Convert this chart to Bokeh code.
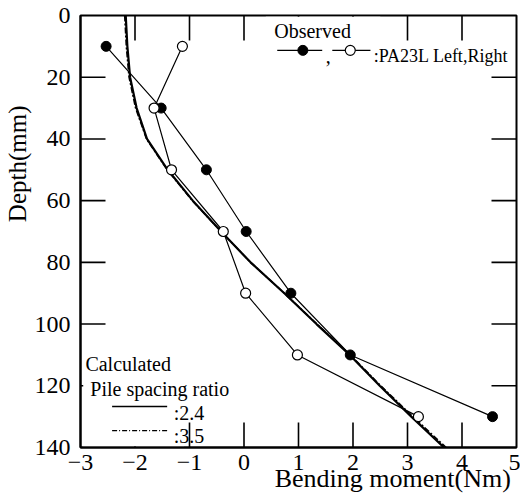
from bokeh.plotting import figure
from bokeh.models import Range1d, Label, FixedTicker, Title
from bokeh.embed import file_html
from bokeh.resources import INLINE

# ---- data ----
depth_obs = [10, 30, 50, 70, 90, 110, 130]
left_obs = [-2.53, -1.52, -0.69, 0.04, 0.86, 1.95, 4.56]
right_obs = [-1.13, -1.65, -1.33, -0.38, 0.03, 0.98, 3.20]

depth_calc = [0, 10, 20, 30, 40, 50, 60, 70, 80, 90, 100, 110, 120, 130, 140]
calc_24 = [-2.17, -2.14, -2.09, -1.97, -1.78, -1.40, -0.94, -0.42, 0.12, 0.74, 1.33, 1.94, 2.49, 3.07, 3.67]
calc_35 = [-2.19, -2.16, -2.11, -1.99, -1.79, -1.41, -0.95, -0.42, 0.12, 0.74, 1.34, 1.95, 2.51, 3.10, 3.71]

x_ticks = [-3, -2, -1, 0, 1, 2, 3, 4, 5]
y_ticks = [0, 20, 40, 60, 80, 100, 120, 140]

FONT = "Liberation Serif"
XMIN, XMAX, YMIN, YMAX = -3, 5, 0, 140

p = figure(width=520, height=498, output_backend="svg", toolbar_location=None,
           x_range=Range1d(XMIN, XMAX), y_range=Range1d(YMAX, YMIN),
           min_border_left=80, min_border_right=4, min_border_top=15, min_border_bottom=51)
p.grid.visible = False
p.background_fill_color = "white"
p.border_fill_color = "white"
p.outline_line_color = "black"
p.outline_line_width = 2

for ax, ticks, standoff in ((p.xaxis[0], x_ticks, 7), (p.yaxis[0], y_ticks, 10)):
    ax.ticker = FixedTicker(ticks=ticks)
    ax.axis_line_color = "black"
    ax.axis_line_width = 2
    ax.major_tick_in = 0
    ax.major_tick_out = 0
    ax.minor_tick_line_color = None
    ax.major_label_text_font = FONT
    ax.major_label_text_font_size = "24px"
    ax.major_label_text_color = "black"
    ax.major_label_standoff = standoff

# x axis title: the reference places it right of centre; leading no-break
# spaces shift the centred label to the right.
xa = p.xaxis[0]
xa.axis_label = "\u00a0" * 29 + "Bending moment(Nm)"
xa.axis_label_text_font = FONT
xa.axis_label_text_font_size = "26px"
xa.axis_label_text_font_style = "normal"
xa.axis_label_text_color = "black"
xa.axis_label_standoff = -9

# y axis title (side title, top-aligned with an offset so it sits above the middle)
p.add_layout(Title(text="Depth(mm)", align="right", offset=90, standoff=2,
                   text_font=FONT, text_font_size="25px", text_font_style="normal",
                   text_color="black"), "left")

# ---- inward tick marks on all four sides (25 px long) ----
tx = 25 / 54.5
ty = 25 / 3.0857
xt = [t for t in x_ticks if XMIN < t < XMAX]
yt = [t for t in y_ticks if YMIN < t < YMAX]
p.segment(x0=xt, y0=[YMAX] * len(xt), x1=xt, y1=[YMAX - ty] * len(xt), line_color="black", line_width=1.6)
p.segment(x0=xt, y0=[YMIN] * len(xt), x1=xt, y1=[YMIN + ty] * len(xt), line_color="black", line_width=1.6)
p.segment(x0=[XMIN] * len(yt), y0=yt, x1=[XMIN + tx] * len(yt), y1=yt, line_color="black", line_width=1.6)
p.segment(x0=[XMAX] * len(yt), y0=yt, x1=[XMAX - tx] * len(yt), y1=yt, line_color="black", line_width=1.6)

# ---- legend backgrounds (hide ticks under legends) ----
p.quad(left=[-2.95], right=[-1.1], top=[106], bottom=[139.6], fill_color="white", line_color=None)
p.quad(left=[0.4], right=[2.5], top=[0.4], bottom=[15.5], fill_color="white", line_color=None)

# ---- calculated curves ----
p.line(calc_24, depth_calc, line_color="black", line_width=2.2)
p.line(calc_35, depth_calc, line_color="black", line_width=1.5, line_dash="6 2 2 2")

# ---- observed ----
p.line(left_obs, depth_obs, line_color="black", line_width=1.2)
p.line(right_obs, depth_obs, line_color="black", line_width=1.2)
p.scatter(left_obs, depth_obs, size=10, fill_color="black", line_color="black")
p.scatter(right_obs, depth_obs, size=10, fill_color="white", line_color="black", line_width=1.2)

# Observed legend
p.add_layout(Label(x=0.61, y=5.1, text="Observed", text_font=FONT, text_font_size="20px",
                   text_color="black", text_baseline="alphabetic", text_align="left",
                   background_fill_color="white", x_offset=-3))
p.line([0.61, 1.435], [11.3, 11.3], line_color="black", line_width=1.2)
p.scatter([1.08], [11.3], size=10, fill_color="black", line_color="black")
p.add_layout(Label(x=1.50, y=13.0, text=",", text_font=FONT, text_font_size="20px",
                   text_color="black", text_baseline="alphabetic"))
p.line([1.62, 2.32], [11.3, 11.3], line_color="black", line_width=1.2)
p.scatter([1.95], [11.3], size=10, fill_color="white", line_color="black", line_width=1.2)
p.add_layout(Label(x=2.38, y=13.0, text=":PA23L Left,Right", text_font=FONT,
                   text_font_size="18px", text_color="black", text_baseline="alphabetic"))

# Calculated legend
p.add_layout(Label(x=-2.91, y=113.1, text="Calculated", text_font=FONT, text_font_size="20px",
                   text_color="black", text_baseline="alphabetic"))
p.add_layout(Label(x=-2.82, y=120.9, text="Pile spacing ratio", text_font=FONT,
                   text_font_size="20px", text_color="black", text_baseline="alphabetic"))
p.line([-2.42, -1.41], [126.7, 126.7], line_color="black", line_width=1.5)
p.add_layout(Label(x=-1.29, y=128.7, text=":2.4", text_font=FONT, text_font_size="20px",
                   text_color="black", text_baseline="alphabetic"))
p.line([-2.42, -1.41], [134.5, 134.5], line_color="black", line_width=1.2, line_dash="5 2 1 2")
p.add_layout(Label(x=-1.29, y=136.4, text=":3.5", text_font=FONT, text_font_size="20px",
                   text_color="black", text_baseline="alphabetic"))

open("out.html", "w").write(file_html(p, INLINE))
